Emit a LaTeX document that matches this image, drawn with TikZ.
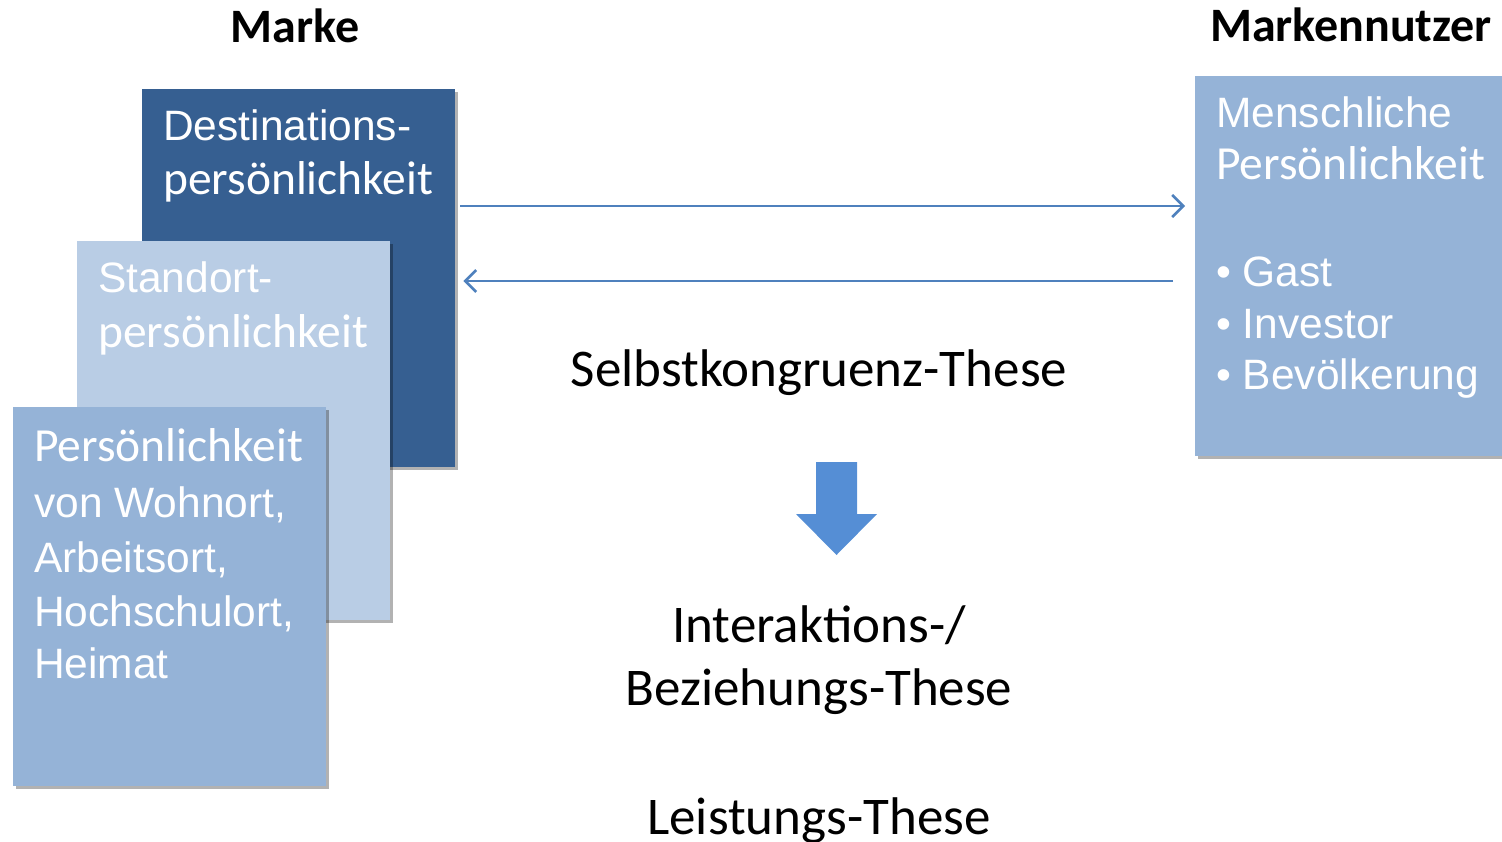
\documentclass[tikz,border=0pt]{standalone}
\usepackage{fontspec}
\setmainfont{Liberation Sans}
\newfontfamily\carl{Carlito}
\usetikzlibrary{arrows.meta,shadows,calc}
\definecolor{darkbox}{HTML}{365F91}
\definecolor{lightbox}{HTML}{B9CDE5}
\definecolor{midbox}{HTML}{95B3D7}
\definecolor{arrowblue}{HTML}{4F81BD}
\definecolor{blockblue}{HTML}{558ED5}
\begin{document}
\begin{tikzpicture}[x=1pt,y=-1pt,
  panel/.style={rectangle, draw=none, inner sep=0pt, anchor=north west,
    drop shadow={shadow xshift=3pt, shadow yshift=-3pt, fill=black, opacity=0.3}},
  ln/.style={anchor=base west, inner sep=0pt, text=white, font=\fontsize{42.5}{50}\selectfont},
  lnc/.style={anchor=base west, inner sep=0pt, text=white, font=\carl\fontsize{47.5}{50}\selectfont},
  head/.style={anchor=base, inner sep=0pt, font=\carl\bfseries\fontsize{48}{56}\selectfont},
  thesis/.style={anchor=base, inner sep=0pt, font=\carl\fontsize{53}{62}\selectfont},
  conn/.style={draw=arrowblue, line width=2.6pt, -{Straight Barb[length=11pt,width=22pt]}}]
\useasboundingbox (0,0) rectangle (1502,842);

% headings
\node[head] (marke) at (295,43) {Marke};
\node[head] (nutzer) at (1351,42) {Markennutzer};

% left stacked panels
\node[panel, fill=darkbox, minimum width=313pt, minimum height=378pt] (dest) at (142,89) {};
\node[ln]  (d1) at ($(dest.north west)+(21,52)$) {Destinations-};
\node[lnc] (d2) at ($(dest.north west)+(21,106)$) {persönlichkeit};

\node[panel, fill=lightbox, minimum width=313pt, minimum height=379pt] (stand) at (77,241) {};
\node[ln]  (s1) at ($(stand.north west)+(21,52)$) {Standort-};
\node[lnc] (s2) at ($(stand.north west)+(21,106)$) {persönlichkeit};

\node[panel, fill=midbox, minimum width=313pt, minimum height=379pt] (wohn) at (13,407) {};
\node[lnc] (w1) at ($(wohn.north west)+(21,54)$) {Persönlichkeit};
\node[ln]  (w2) at ($(wohn.north west)+(21,110)$) {von Wohnort,};
\node[ln]  (w3) at ($(wohn.north west)+(21,165)$) {Arbeitsort,};
\node[ln]  (w4) at ($(wohn.north west)+(21,219)$) {Hochschulort,};
\node[ln]  (w5) at ($(wohn.north west)+(21,271)$) {Heimat};

% right panel
\node[panel, fill=midbox, minimum width=312pt, minimum height=380pt] (user) at (1195,76) {};
\node[ln]  (u1) at ($(user.north west)+(21,52)$) {Menschliche};
\node[lnc] (u2) at ($(user.north west)+(21,104)$) {Persönlichkeit};
\node[ln]  (u3) at ($(user.north west)+(21,211)$) {• Gast};
\node[ln]  (u4) at ($(user.north west)+(21,262)$) {• Investor};
\node[ln]  (u5) at ($(user.north west)+(21,313)$) {• Bevölkerung};

% connectors
\draw[conn] ($(dest.north east)+(5,117)$) -- ($(user.north west)+(-10,130)$);
\draw[conn] ($(user.north west)+(-22,205)$) -- ($(dest.north east)+(8,192)$);

% theses
\node[thesis] (selbst) at (819,386) {Selbstkongruenz-These};
\node[thesis] (inter) at (819,642) {Interaktions-/};
\node[thesis] (bez) at (819,705) {Beziehungs-These};
\node[thesis] (leist) at (819,834) {Leistungs-These};

% block arrow
\fill[blockblue] (816,462) -- (857,462) -- (857,514) -- (877,514) -- (836.5,555)
  -- (796,514) -- (816,514) -- cycle;
\end{tikzpicture}
\end{document}
